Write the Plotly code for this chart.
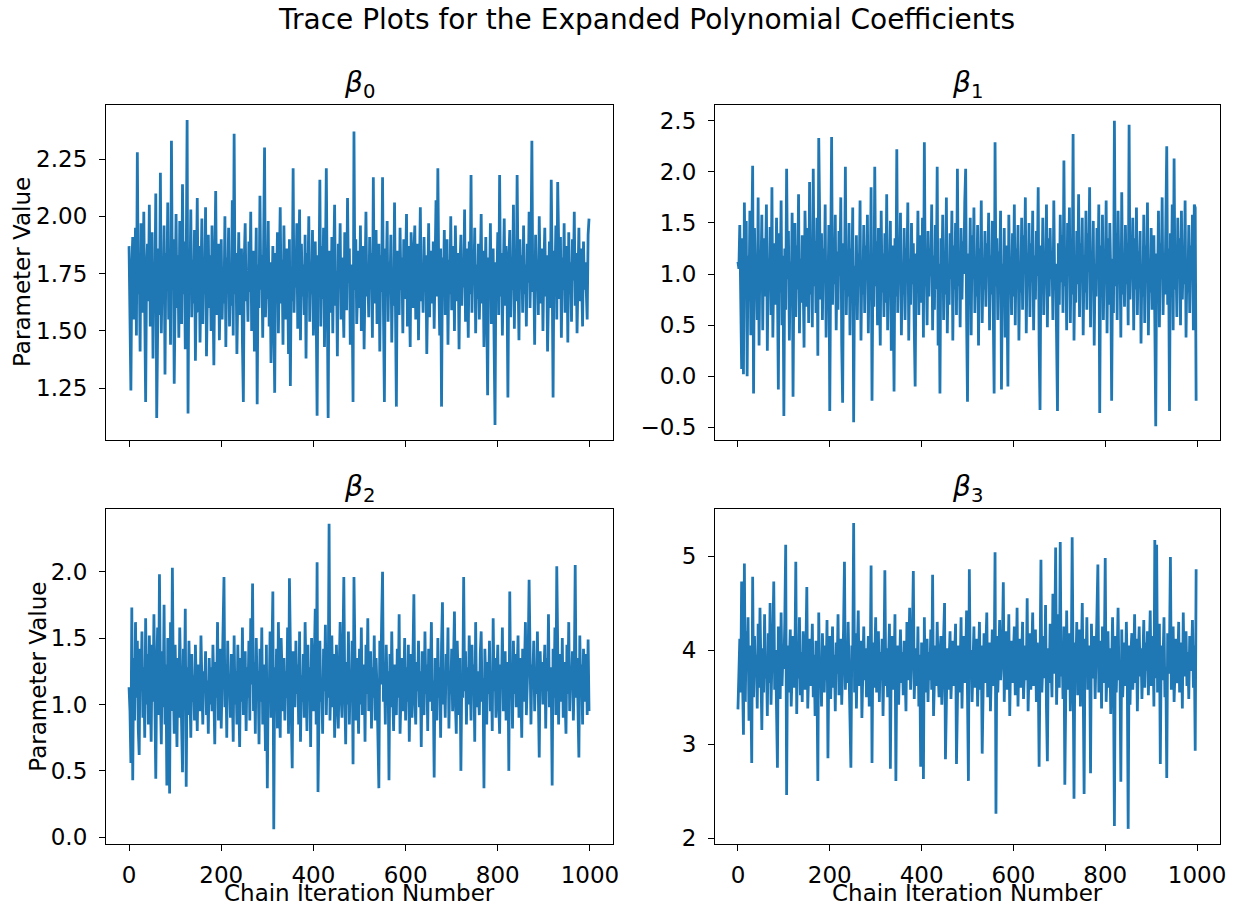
import plotly.graph_objects as go

# chain iterations (every second draw shown)
iterations = list(range(0, 1000, 2))

beta0 = [
1.87, 1.62, 1.24, 1.78, 1.91, 1.55, 1.70, 1.95, 1.48, 2.28,
1.66, 1.82, 1.41, 1.97, 1.74, 1.58, 2.02, 1.45, 1.19, 1.76,
1.88, 1.63, 2.05, 1.52, 1.71, 1.93, 1.38, 1.80, 1.67, 2.10,
1.12, 1.73, 1.86, 1.57, 2.19, 1.49, 1.77, 1.64, 1.96, 1.31,
1.84, 1.70, 2.06, 1.55, 1.79, 1.44, 2.33, 1.68, 1.90, 1.27,
1.75, 2.01, 1.60, 1.83, 1.47, 1.98, 1.72, 1.53, 2.14, 1.66,
1.89, 1.42, 1.78, 2.42, 1.14, 1.85, 1.69, 2.03, 1.56, 1.81,
1.62, 1.94, 1.37, 1.76, 2.08, 1.58, 1.87, 1.45, 1.71, 1.99,
1.53, 1.80, 1.66, 2.04, 1.39, 1.74, 1.92, 1.60, 1.83, 1.50,
1.96, 1.68, 1.35, 1.79, 2.11, 1.57, 1.73, 1.88, 1.46, 1.64,
1.90, 1.55, 1.77, 1.62, 2.00, 1.43, 1.82, 1.69, 1.95, 1.52,
1.75, 1.61, 2.07, 1.48, 2.36, 1.66, 1.84, 1.40, 1.78, 1.93,
1.57, 1.70, 1.86, 1.45, 1.19, 1.81, 1.97, 1.63, 1.74, 1.54,
1.89, 1.67, 2.02, 1.50, 1.76, 1.85, 1.41, 1.72, 1.95, 1.18,
1.79, 1.60, 2.09, 1.68, 1.83, 1.47, 1.91, 2.30, 1.56, 1.73,
1.64, 1.98, 1.52, 1.80, 1.36, 1.75, 1.87, 1.59, 1.23, 1.84,
1.70, 1.93, 1.49, 1.77, 2.04, 1.62, 1.81, 1.44, 1.96, 1.67,
1.55, 1.86, 1.73, 1.40, 1.90, 1.26, 1.78, 1.63, 2.21, 1.58,
1.82, 1.69, 1.97, 1.51, 1.75, 2.03, 1.46, 1.88, 1.65, 1.79,
1.57, 1.92, 1.38, 1.84, 1.71, 2.00, 1.54, 1.80, 1.66, 1.94,
1.48, 1.76, 1.89, 1.60, 1.13, 1.83, 1.70, 2.16, 1.52, 1.87,
1.64, 1.95, 1.43, 1.78, 2.21, 1.67, 1.12, 1.85, 1.72, 1.58,
1.91, 1.49, 1.80, 2.05, 1.61, 1.76, 1.39, 1.88, 1.69, 1.97,
1.55, 1.82, 1.66, 1.47, 1.93, 1.74, 1.59, 2.08, 1.71, 1.86,
1.44, 1.79, 1.63, 1.19, 2.37, 1.68, 1.90, 1.53, 1.77, 1.85,
1.60, 1.96, 1.50, 1.73, 1.87, 1.42, 1.81, 2.02, 1.65, 1.76,
1.56, 1.91, 1.70, 1.84, 1.47, 2.17, 1.62, 1.79, 1.94, 1.53,
1.75, 1.88, 1.41, 1.83, 1.67, 2.17, 1.58, 1.19, 1.86, 1.72,
1.98, 1.54, 1.80, 1.66, 1.92, 1.45, 1.77, 1.61, 2.06, 1.70,
1.17, 1.85, 1.73, 1.57, 1.95, 1.68, 1.82, 1.49, 1.90, 1.64,
1.78, 2.01, 1.52, 1.87, 1.69, 1.43, 1.93, 1.75, 1.60, 1.84,
1.96, 1.55, 1.71, 1.88, 1.46, 1.80, 2.04, 1.63, 1.76, 1.58,
1.91, 1.67, 1.83, 1.40, 1.74, 1.97, 1.56, 1.85, 1.70, 1.62,
1.89, 1.51, 1.79, 2.07, 1.65, 2.21, 1.73, 1.48, 1.86, 1.17,
1.82, 1.68, 1.94, 1.57, 1.77, 1.90, 1.44, 1.81, 1.66, 2.00,
1.59, 1.75, 1.87, 1.50, 1.96, 1.72, 1.63, 1.84, 1.42, 1.78,
1.92, 1.61, 1.80, 1.69, 2.03, 1.54, 1.86, 1.74, 1.47, 1.89,
1.66, 2.18, 1.58, 1.83, 1.71, 1.95, 1.49, 1.79, 1.64, 1.88,
1.55, 1.76, 2.01, 1.62, 1.85, 1.43, 1.73, 1.91, 1.60, 1.22,
1.82, 1.68, 1.97, 1.53, 1.77, 1.86, 1.45, 1.09, 1.80, 1.70,
1.93, 1.57, 2.18, 1.65, 1.84, 1.48, 1.75, 1.99, 1.61, 1.87,
1.72, 1.21, 1.81, 1.94, 1.56, 1.78, 1.68, 2.05, 1.51, 1.85,
1.63, 2.18, 1.74, 1.46, 1.90, 1.70, 1.83, 1.58, 1.96, 1.66,
1.79, 1.52, 1.88, 1.71, 2.02, 1.60, 1.84, 2.33, 1.67, 1.76,
1.44, 1.92, 1.69, 1.81, 1.57, 2.00, 1.73, 1.62, 1.86, 1.50,
1.78, 1.95, 1.65, 1.83, 1.41, 1.74, 1.89, 1.60, 2.16, 1.77,
1.21, 1.85, 1.70, 1.96, 1.55, 2.15, 1.79, 1.64, 1.91, 1.47,
1.82, 1.68, 1.97, 1.58, 1.76, 1.87, 1.45, 1.93, 1.66, 1.80,
1.54, 1.90, 1.72, 2.02, 1.61, 1.84, 1.49, 1.78, 1.95, 1.63,
1.86, 1.71, 1.52, 1.89, 1.68, 1.80, 1.60, 1.55, 1.92, 1.99,
]

beta1 = [
1.12, 1.05, 1.48, 0.62, 0.07, 1.35, 0.02, 1.70, 0.85, 1.52,
0.00, 1.18, 0.74, 1.62, 0.40, 1.28, 2.06, -0.17, 1.45, 0.90,
1.10, 0.55, 1.75, 0.30, 1.22, 0.98, 1.58, 0.45, 1.35, 0.78,
1.05, 1.68, 0.25, 1.15, 0.88, 1.46, 0.60, 1.85, 0.38, 1.02,
1.30, 0.70, 1.55, 0.92, -0.13, 1.40, 0.82, 1.72, 0.50, 1.18,
-0.39, 1.25, 0.65, 2.03, 0.95, 1.42, 0.35, 1.12, 0.78, 1.60,
-0.20, 1.08, 1.50, 0.58, 1.28, 0.85, 1.78, 0.42, 1.15, 0.72,
1.38, 0.95, 0.28, 1.62, 1.00, 0.68, 1.45, 0.52, 1.90, 0.80,
1.20, 0.48, 2.03, 0.88, 1.32, 0.62, 1.55, 0.20, 2.33, 1.05,
0.75, 1.40, 0.55, 1.25, 0.92, 1.68, 0.38, 1.10, 0.82, 1.48,
-0.34, 1.15, 2.34, 0.70, 1.35, 0.90, 1.58, 0.45, 1.22, 0.65,
1.42, 0.98, 1.75, 0.32, -0.26, 1.30, 0.85, 2.05, 0.60, 1.18,
0.78, 1.50, 0.40, 1.25, 0.95, 1.65, -0.45, 1.08, 0.72, 1.38,
0.55, 1.20, 0.88, 1.72, 0.35, 1.12, 0.80, 1.48, 0.62, 1.28,
0.95, 1.58, 0.42, 1.15, 0.75, 1.85, -0.24, 1.05, 0.68, 2.05,
0.88, 1.32, 0.50, 1.45, 0.98, 0.30, 1.62, 0.82, 1.20, 0.58,
1.40, 0.72, 1.78, 0.45, 1.10, 0.92, 1.52, 0.25, 1.28, 0.85,
-0.15, 1.35, 0.78, 2.22, 0.62, 1.18, 0.95, 1.60, 0.40, 1.08,
0.80, 1.45, 0.55, 1.25, 1.02, 1.70, 0.35, 1.15, 0.70, 1.50,
0.90, 1.30, 0.48, -0.10, 1.20, 0.82, 1.62, 0.60, 1.38, 0.95,
0.72, 1.55, 0.38, 2.29, 0.88, 1.12, 0.50, 1.42, 0.78, 1.25,
0.98, 1.68, 0.45, 1.18, 0.65, 1.48, 0.85, 2.05, 0.30, 1.10,
-0.17, 1.35, 0.92, 1.58, 0.55, 1.22, 0.80, 1.75, 0.42, 1.05,
0.70, 1.40, 0.95, 1.62, 0.35, 1.28, 0.85, 1.50, 0.60, 2.03,
0.88, 1.15, 0.48, 1.45, 0.75, 1.32, 1.00, 1.70, 2.03, 0.58,
-0.25, 1.20, 0.82, 1.55, 0.40, 1.38, 0.95, 1.65, 0.62, 1.12,
0.78, 1.48, 0.30, 1.25, 0.90, 1.72, 0.52, 1.08, 0.85, 1.42,
0.68, 1.30, 0.98, 1.60, 0.45, 1.18, 0.80, 1.52, 0.62, -0.17,
2.29, 0.88, 1.35, 0.55, 1.22, 0.95, 1.62, -0.13, 1.10, 0.72,
1.45, 0.38, 1.28, 0.85, -0.10, 1.58, 0.92, 1.15, 0.60, 1.40,
0.78, 1.68, 0.50, 1.25, 0.95, 1.48, 0.35, 1.12, 0.82, 1.55,
0.65, 1.38, 1.00, 1.75, 0.42, 1.20, 0.88, 1.50, 0.58, 1.30,
0.92, 1.62, 0.45, 1.18, 0.75, 1.42, 0.98, 1.85, 0.30, -0.33,
1.28, 0.82, 1.55, 0.60, 1.12, 0.90, 1.68, 0.48, 1.35, 0.78,
1.45, 0.95, 1.22, 0.55, 1.72, 0.85, 1.10, 0.40, -0.34, 1.30,
0.70, 1.58, 0.92, 1.38, 0.62, 2.11, 0.88, 1.20, 0.45, 1.50,
0.98, 1.65, 0.52, 1.25, 0.80, 2.37, 0.35, 1.15, 0.72, 1.42,
0.90, 1.78, 0.58, 1.30, 0.95, 1.55, 0.40, 1.18, 0.82, 1.62,
0.65, 1.40, 1.02, 1.85, 0.48, 1.22, 0.88, 1.52, 0.30, 1.10,
0.78, 1.45, 0.95, 1.68, -0.36, 1.28, 0.85, 1.58, 0.55, 1.20,
0.92, 1.72, 0.42, 1.35, 0.70, 1.50, 0.98, -0.24, 1.15, 0.62,
2.50, 0.88, 1.40, 0.55, 1.62, 0.95, 1.25, 0.38, 1.80, 0.80,
1.12, 0.68, 1.48, 0.90, 1.30, 0.50, 2.46, 0.75, 1.18, 0.95,
1.55, 0.45, 1.35, 0.85, 1.65, 0.60, 1.22, 0.98, 1.42, 0.32,
1.10, 0.78, 1.58, 0.52, 1.28, 0.92, 1.70, 0.40, 1.15, 0.82,
1.45, 0.65, 1.05, 1.38, 0.55, -0.49, 1.20, 0.88, 1.62, 0.48,
1.30, 0.95, 1.75, 0.60, 1.12, 0.80, 1.50, 2.25, 0.70, 1.25,
-0.34, 1.40, 0.92, 1.68, 0.45, 2.13, 0.85, 1.18, 0.58, 1.55,
0.98, 1.35, 0.50, 1.62, 0.75, 1.22, 0.90, 1.72, 0.38, 1.10,
0.82, 1.48, 0.62, 1.28, 0.95, 1.58, 0.45, 1.68, 1.65, -0.24,
]

beta2 = [
1.13, 0.95, 0.56, 1.73, 0.43, 1.35, 0.88, 1.62, 1.05, 1.48,
0.82, 0.62, 1.42, 1.10, 1.55, 0.90, 1.28, 0.75, 1.65, 1.00,
1.38, 0.85, 1.52, 1.15, 0.72, 1.45, 1.02, 1.68, 0.80, 0.44,
1.25, 1.58, 0.92, 1.98, 1.08, 0.70, 1.40, 0.98, 1.75, 0.85,
1.30, 0.39, 1.50, 1.12, 0.33, 1.62, 0.95, 2.03, 1.20, 0.78,
1.45, 1.05, 0.68, 1.35, 0.90, 1.58, 1.15, 0.82, 0.49, 1.42,
1.00, 1.72, 0.38, 1.28, 0.92, 1.48, 1.10, 0.75, 1.38, 1.02,
1.22, 0.88, 1.45, 1.08, 0.80, 1.30, 1.15, 0.95, 1.52, 1.05,
0.85, 1.25, 1.10, 1.40, 0.92, 1.18, 0.78, 1.35, 1.00, 1.28,
0.95, 1.45, 1.12, 0.70, 1.32, 1.05, 1.62, 0.88, 1.20, 1.42,
0.82, 1.15, 1.55, 1.96, 0.98, 1.30, 0.75, 1.48, 1.08, 1.22,
0.90, 1.38, 1.12, 0.72, 1.52, 1.00, 1.25, 0.85, 1.45, 1.10,
0.68, 1.35, 1.02, 1.58, 0.92, 1.20, 1.40, 0.80, 1.28, 1.05,
1.48, 0.88, 1.65, 1.15, 1.91, 0.95, 1.32, 0.78, 1.50, 1.10,
1.25, 0.70, 1.42, 1.02, 1.58, 0.85, 1.30, 1.12, 0.65, 1.45,
0.37, 1.20, 1.05, 1.55, 0.90, 1.38, 1.85, 0.06, 1.28, 1.00,
1.42, 0.82, 1.62, 1.10, 0.75, 1.50, 1.18, 0.95, 1.35, 0.88,
1.25, 1.05, 1.58, 0.78, 1.95, 1.12, 0.92, 0.52, 1.40, 1.15,
0.98, 1.48, 1.08, 1.30, 0.85, 1.55, 0.72, 1.22, 1.02, 1.38,
0.90, 1.62, 1.15, 0.80, 1.45, 1.05, 1.28, 0.68, 1.50, 1.12,
0.95, 1.35, 1.72, 0.85, 2.07, 0.34, 1.25, 1.48, 1.02, 1.18,
0.78, 1.42, 1.10, 1.60, 0.92, 1.30, 1.05, 2.36, 0.88, 1.20,
1.52, 0.98, 1.38, 0.75, 1.15, 1.45, 1.02, 0.82, 1.28, 1.62,
1.08, 0.90, 1.40, 1.96, 1.12, 0.70, 1.32, 1.00, 1.55, 0.85,
1.25, 1.05, 1.48, 0.55, 1.96, 1.18, 0.88, 1.35, 1.10, 0.78,
1.42, 1.00, 1.58, 0.92, 1.22, 1.30, 0.72, 1.45, 1.08, 1.65,
0.95, 1.18, 1.40, 0.82, 1.28, 1.05, 1.52, 0.88, 1.35, 1.12,
0.75, 0.37, 1.48, 1.15, 1.62, 2.00, 1.02, 1.32, 0.85, 1.45,
1.10, 1.25, 0.43, 1.38, 0.98, 1.55, 1.08, 0.80, 1.30, 1.18,
0.92, 1.42, 1.05, 1.68, 0.78, 1.22, 1.35, 0.95, 1.12, 1.50,
0.88, 1.28, 1.02, 1.45, 0.72, 1.18, 1.38, 0.90, 1.58, 1.83,
1.05, 0.85, 1.32, 1.10, 1.48, 0.98, 1.25, 0.68, 1.40, 1.15,
0.92, 1.55, 1.08, 1.30, 0.80, 1.42, 1.02, 1.22, 1.62, 0.95,
1.18, 0.45, 1.35, 1.12, 0.88, 1.50, 1.05, 1.28, 0.75, 1.45,
1.77, 1.00, 1.20, 0.90, 1.38, 1.15, 1.58, 0.82, 1.25, 1.08,
1.42, 0.95, 1.32, 1.70, 1.02, 0.78, 1.48, 1.15, 0.92, 1.35,
0.50, 1.22, 1.05, 1.96, 1.10, 1.40, 0.85, 1.28, 1.00, 1.52,
1.18, 0.88, 1.45, 1.08, 1.30, 0.72, 1.62, 0.98, 1.25, 1.12,
0.92, 1.38, 1.55, 1.02, 1.20, 0.37, 1.42, 1.15, 0.85, 1.32,
1.08, 1.48, 0.95, 1.25, 0.80, 1.65, 1.10, 1.35, 0.90, 1.18,
1.45, 1.02, 0.78, 1.30, 1.12, 1.58, 0.95, 1.22, 1.40, 0.88,
1.15, 1.32, 0.50, 1.85, 1.05, 1.25, 0.82, 1.48, 1.08, 1.38,
0.98, 1.20, 1.52, 0.90, 1.35, 1.12, 0.75, 1.42, 1.02, 1.28,
1.62, 0.92, 1.15, 1.38, 1.94, 1.05, 0.85, 1.30, 1.18, 1.48,
0.95, 1.25, 1.08, 1.55, 0.88, 0.60, 1.40, 1.12, 1.32, 1.00,
1.22, 1.45, 0.82, 1.35, 1.10, 1.68, 0.98, 1.28, 1.15, 0.39,
1.42, 1.05, 1.58, 0.92, 2.04, 1.18, 0.85, 1.38, 1.25, 1.02,
1.50, 0.90, 1.32, 1.12, 0.78, 1.45, 1.08, 1.62, 0.95, 1.28,
1.15, 1.40, 0.88, 1.22, 2.05, 1.05, 1.35, 0.98, 0.60, 1.52,
1.10, 1.30, 0.85, 1.42, 1.18, 1.02, 1.38, 0.92, 1.49, 0.95,
]

beta3 = [
3.37, 3.85, 4.12, 3.55, 4.73, 3.68, 3.10, 4.92, 3.45, 4.20,
3.78, 4.35, 3.25, 4.05, 3.62, 2.80, 4.78, 3.50, 4.15, 3.72,
3.95, 3.38, 4.28, 3.60, 4.45, 3.82, 3.15, 4.02, 3.55, 4.38,
3.70, 3.92, 3.30, 4.18, 3.65, 4.50, 3.42, 3.88, 4.10, 4.73,
3.58, 4.00, 3.35, 2.75, 4.25, 3.75, 3.48, 4.40, 3.62, 3.95,
3.80, 4.30, 5.12, 2.46, 4.05, 3.55, 3.90, 4.22, 3.40, 3.78,
4.15, 3.60, 3.85, 4.94, 3.32, 4.08, 3.70, 4.35, 3.52, 3.98,
3.45, 4.20, 3.75, 3.58, 4.02, 4.67, 3.38, 3.90, 4.12, 3.62,
3.85, 4.28, 3.50, 3.95, 3.30, 4.10, 3.72, 2.61, 4.40, 3.65,
3.92, 3.40, 4.18, 3.78, 3.55, 4.05, 3.68, 4.32, 2.85, 3.88,
4.15, 3.48, 3.82, 4.25, 3.60, 3.95, 3.35, 4.08, 3.75, 4.38,
3.52, 3.90, 4.12, 3.42, 3.80, 4.22, 4.94, 3.58, 3.98, 3.65,
4.30, 3.72, 3.45, 2.75, 4.05, 3.85, 5.35, 3.55, 4.18, 3.38,
3.95, 4.42, 3.62, 3.82, 4.10, 3.28, 3.90, 4.25, 3.68, 4.02,
3.50, 3.85, 4.15, 3.40, 3.75, 4.90, 2.80, 4.08, 3.60, 3.92,
4.35, 3.55, 3.78, 4.20, 3.45, 3.98, 3.68, 4.12, 3.30, 3.88,
4.85, 3.62, 4.02, 3.50, 3.82, 4.28, 2.74, 3.95, 4.15, 3.58,
3.75, 4.38, 2.61, 3.90, 4.05, 3.42, 3.85, 4.22, 3.65, 3.98,
3.52, 4.10, 3.78, 3.35, 4.30, 3.68, 3.92, 4.45, 3.58, 3.80,
4.18, 4.84, 3.48, 3.88, 4.02, 3.62, 4.25, 3.40, 3.95, 2.76,
4.08, 3.72, 2.63, 4.35, 3.55, 3.85, 4.12, 3.45, 3.98, 3.68,
4.22, 3.58, 4.80, 3.30, 3.90, 4.05, 3.62, 4.30, 3.78, 3.50,
3.95, 4.15, 3.42, 3.82, 4.38, 4.50, 2.84, 3.70, 4.02, 3.58,
3.88, 4.20, 3.48, 3.75, 4.10, 3.62, 3.92, 4.28, 2.79, 3.85,
4.05, 3.55, 3.80, 4.35, 3.38, 3.98, 4.15, 3.65, 3.88, 4.42,
3.52, 2.61, 4.86, 3.72, 4.00, 3.45, 3.85, 4.25, 3.60, 3.95,
4.12, 3.40, 3.78, 4.30, 3.58, 4.05, 2.90, 3.88, 4.18, 3.65,
3.92, 4.40, 3.50, 3.82, 4.08, 3.35, 3.98, 4.22, 3.62, 3.75,
5.04, 2.26, 4.15, 3.55, 3.90, 4.32, 3.68, 3.85, 4.05, 4.72,
3.45, 3.95, 4.20, 3.58, 3.80, 4.38, 3.30, 3.92, 4.10, 3.65,
3.88, 4.25, 3.52, 3.75, 4.45, 3.40, 3.98, 4.12, 3.60, 3.85,
4.30, 3.48, 3.92, 4.05, 3.68, 4.55, 3.35, 3.82, 4.18, 3.58,
3.95, 4.40, 3.62, 3.78, 4.22, 3.45, 4.08, 3.85, 2.76, 4.35,
4.96, 3.55, 3.90, 4.15, 3.70, 4.48, 3.38, 2.82, 4.02, 3.65,
4.28, 3.82, 3.50, 4.60, 3.75, 4.10, 5.09, 3.42, 3.95, 4.38,
3.60, 5.15, 3.72, 4.05, 3.48, 4.25, 2.57, 3.88, 4.42, 3.58,
3.92, 4.18, 3.35, 3.80, 5.20, 3.65, 2.42, 4.08, 3.75, 4.30,
3.52, 3.98, 4.22, 3.40, 3.85, 4.50, 3.62, 2.47, 4.12, 3.78,
4.35, 3.58, 3.90, 4.05, 2.69, 4.28, 3.70, 3.95, 4.15, 3.48,
3.82, 4.40, 4.91, 3.55, 3.88, 4.10, 3.38, 4.25, 3.65, 3.92,
4.98, 3.45, 3.78, 4.20, 3.60, 4.02, 3.32, 3.88, 4.35, 3.72,
2.13, 4.15, 3.55, 3.95, 4.45, 3.68, 3.85, 2.60, 4.22, 3.50,
3.90, 4.08, 3.62, 4.30, 3.78, 2.10, 4.05, 3.42, 3.98, 4.18,
3.58, 3.85, 4.38, 3.65, 4.12, 3.35, 3.92, 4.25, 3.72, 4.02,
3.48, 3.88, 4.32, 3.60, 4.08, 3.78, 4.20, 3.52, 3.95, 4.42,
3.62, 3.85, 4.15, 3.40, 5.17, 3.70, 5.12, 3.55, 3.98, 4.28,
2.79, 4.05, 3.68, 3.90, 4.35, 3.50, 3.82, 2.64, 4.18, 3.75,
4.02, 4.99, 3.58, 3.88, 4.25, 3.45, 3.95, 4.12, 3.65, 3.80,
4.30, 3.55, 3.92, 4.08, 3.38, 4.40, 3.72, 3.85, 4.20, 3.62,
3.98, 3.48, 4.15, 3.78, 3.90, 4.32, 3.60, 4.05, 2.93, 4.86,
]

panel_titles = ["<i>β</i><sub>0</sub>", "<i>β</i><sub>1</sub>",
                "<i>β</i><sub>2</sub>", "<i>β</i><sub>3</sub>"]
y_ranges = [[1.0244, 2.4856], [-0.624, 2.654], [-0.053, 2.472], [1.936, 5.5]]
y_ticks = [[1.25, 1.50, 1.75, 2.00, 2.25],
           [-0.5, 0.0, 0.5, 1.0, 1.5, 2.0, 2.5],
           [0.0, 0.5, 1.0, 1.5, 2.0],
           [2, 3, 4, 5]]
y_formats = [".2f", ".1f", ".1f", "d"]
x_ticks = [0, 200, 400, 600, 800, 1000]
x_title = "Chain Iteration Number"
y_title = "Parameter Value"
main_title = "Trace Plots for the Expanded Polynomial Coefficients"

series = [beta0, beta1, beta2, beta3]
for s in series:
    assert len(s) == len(iterations), len(s)

W, H = 1244, 907
# plot areas in pixels (left, right, top, bottom)
boxes = [(106, 613, 105, 440), (715, 1220, 105, 440),
         (106, 613, 509, 844.3), (715, 1220, 509, 844.3)]
# pixel x of the rotated y-titles (left column), pixel y of x-titles
ytitle_x = {0: 22.5, 2: 38}
xtitle_y = 893

FONT = "DejaVu Sans"
TICK = 23
LABEL = 23
fig = go.Figure()
layout = dict(
    width=W, height=H,
    margin=dict(l=0, r=0, t=0, b=0, autoexpand=False),
    paper_bgcolor="white", plot_bgcolor="white",
    showlegend=False,
    font=dict(family=FONT, color="black", size=TICK),
)
annotations = []
for k, (vals, box) in enumerate(zip(series, boxes)):
    n = "" if k == 0 else str(k + 1)
    fig.add_trace(go.Scatter(x=iterations, y=vals, mode="lines",
                             line=dict(color="#1f77b4", width=2.8),
                             xaxis="x" + n, yaxis="y" + n,
                             hoverinfo="skip"))
    l, r, t, b = box
    xd = [l / W, r / W]
    yd = [(H - b) / H, (H - t) / H]
    bottom_row = k >= 2
    layout["xaxis" + n] = dict(
        domain=xd, range=[-50, 1050], anchor="y" + n,
        tickvals=x_ticks, showticklabels=bottom_row,
        ticks="outside", ticklen=6, tickwidth=1.2, tickcolor="black",
        showline=True, linecolor="black", linewidth=1.2, mirror=True,
        showgrid=False, zeroline=False, ticklabelstandoff=4,
        tickfont=dict(size=TICK, family=FONT),
    )
    layout["yaxis" + n] = dict(
        domain=yd, range=y_ranges[k], anchor="x" + n,
        tickvals=y_ticks[k], tickformat=y_formats[k],
        ticks="outside", ticklen=6, tickwidth=1.2, tickcolor="black",
        showline=True, linecolor="black", linewidth=1.2, mirror=True,
        showgrid=False, zeroline=False, ticklabelstandoff=7,
        tickfont=dict(size=TICK, family=FONT),
    )
    annotations.append(dict(
        text=panel_titles[k], xref="paper", yref="paper",
        x=(l + r) / 2 / W, y=(H - t) / H, xanchor="center", yanchor="bottom",
        yshift=0, showarrow=False, font=dict(size=28, family=FONT)))
    if bottom_row:
        annotations.append(dict(
            text=x_title, xref="paper", yref="paper",
            x=(l + r) / 2 / W, y=(H - xtitle_y) / H,
            xanchor="center", yanchor="middle", showarrow=False,
            font=dict(size=LABEL, family=FONT)))
    if k in ytitle_x:
        annotations.append(dict(
            text=y_title, xref="paper", yref="paper", textangle=-90,
            x=ytitle_x[k] / W, y=(H - (t + b) / 2) / H,
            xanchor="center", yanchor="middle", showarrow=False,
            font=dict(size=LABEL, family=FONT)))

annotations.append(dict(
    text=main_title,
    xref="paper", yref="paper", x=646 / W, y=(H - 20) / H,
    xanchor="center", yanchor="middle", showarrow=False,
    font=dict(size=28, family=FONT)))
layout["annotations"] = annotations
fig.update_layout(**layout)
fig.write_html("out.html")
